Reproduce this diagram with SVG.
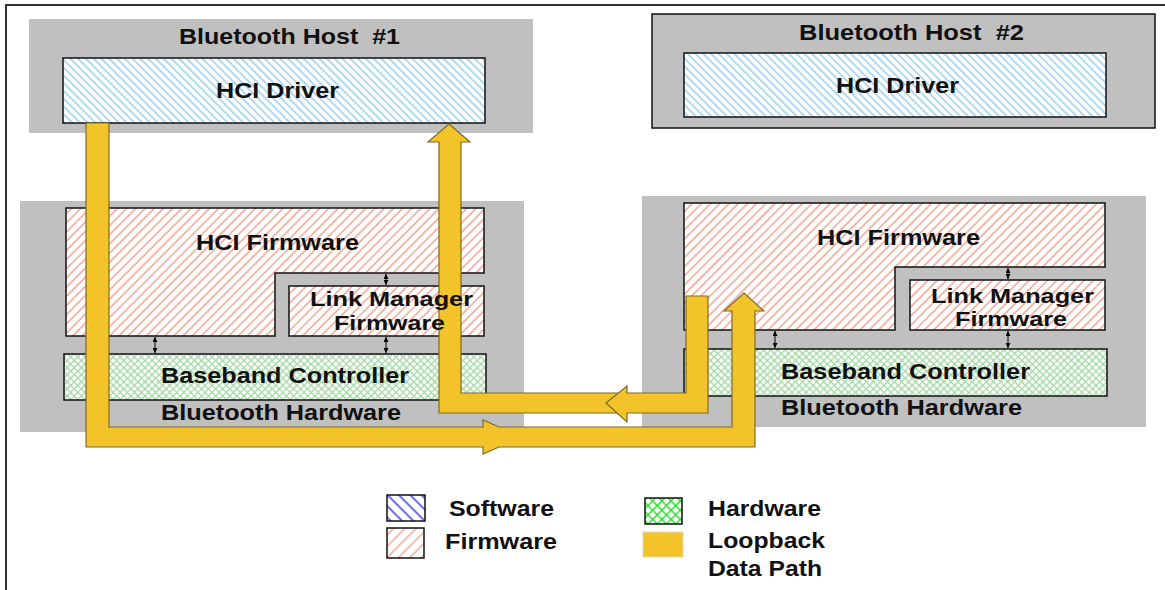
<svg xmlns="http://www.w3.org/2000/svg" width="1165" height="590" viewBox="0 0 1165 590">
<defs>
<style>
.t{font-family:"Liberation Sans",Arial,sans-serif;font-weight:bold;font-size:22px;fill:#111;white-space:pre}
.s{font-size:20px}
.grey{fill:#c0c0c0}
.box{stroke:#111;stroke-width:1.5}
.yl{fill:#f2c42a;stroke:#7d6b28;stroke-width:1.2;stroke-linejoin:miter}
.dbl{stroke:#000;stroke-width:1;marker-start:url(#ah);marker-end:url(#ah)}
</style>
<pattern id="sw" width="5.5" height="5.5" patternUnits="userSpaceOnUse" patternTransform="rotate(45)"><rect width="5.5" height="5.5" fill="#fff"/><line x1="0" y1="2.75" x2="5.5" y2="2.75" stroke="#8fcbee" stroke-width="1.4"/></pattern>
<pattern id="fw" width="6.5" height="6.5" patternUnits="userSpaceOnUse" patternTransform="rotate(-45)"><rect width="6.5" height="6.5" fill="#fff"/><line x1="0" y1="3" x2="6.5" y2="3" stroke="#f0a392" stroke-width="1.5"/></pattern>
<pattern id="hw" width="5" height="5" patternUnits="userSpaceOnUse" patternTransform="rotate(45)"><rect width="5" height="5" fill="#fff"/><line x1="0" y1="2.5" x2="5" y2="2.5" stroke="#a3d7a3" stroke-width="1.3"/><line x1="2.5" y1="0" x2="2.5" y2="5" stroke="#a3d7a3" stroke-width="1.3"/></pattern>
<pattern id="swL" width="8" height="8" patternUnits="userSpaceOnUse" patternTransform="rotate(45)"><rect width="8" height="8" fill="#fff"/><line x1="0" y1="4" x2="8" y2="4" stroke="#2f2ff0" stroke-width="1.4"/></pattern>
<pattern id="fwL" width="8" height="8" patternUnits="userSpaceOnUse" patternTransform="rotate(-45)"><rect width="8" height="8" fill="#fff"/><line x1="0" y1="4" x2="8" y2="4" stroke="#f0a392" stroke-width="1.4"/></pattern>
<pattern id="hwL" width="6.5" height="6.5" patternUnits="userSpaceOnUse" patternTransform="rotate(45)"><rect width="6.5" height="6.5" fill="#fff"/><line x1="0" y1="3.25" x2="6.5" y2="3.25" stroke="#22dd22" stroke-width="1.4"/><line x1="3.25" y1="0" x2="3.25" y2="6.5" stroke="#22dd22" stroke-width="1.4"/></pattern>
<marker id="ah" viewBox="0 0 6 6" refX="6" refY="3" markerWidth="5" markerHeight="5" markerUnits="userSpaceOnUse" orient="auto-start-reverse"><path d="M0,0 L6,3 L0,6 z" fill="#000"/></marker>
</defs>
<rect width="1165" height="590" fill="#fff"/>
<path d="M6,590 V5 H1165" fill="none" stroke="#333" stroke-width="2"/>

<g id="host1">
<rect class="grey" x="29" y="19" width="504" height="114"/>
<text class="t" x="179" y="44" textLength="221" lengthAdjust="spacingAndGlyphs">Bluetooth Host  #1</text>
</g>
<g id="hci-driver-1">
<rect class="box" x="63" y="58" width="422" height="65" fill="url(#sw)"/>
<text class="t" x="216" y="98" textLength="123" lengthAdjust="spacingAndGlyphs">HCI Driver</text>
</g>

<g id="host2">
<rect class="grey box" x="652" y="14" width="503" height="114"/>
<text class="t" x="799" y="40" textLength="225" lengthAdjust="spacingAndGlyphs">Bluetooth Host  #2</text>
</g>
<g id="hci-driver-2">
<rect class="box" x="684" y="53" width="422" height="64" fill="url(#sw)"/>
<text class="t" x="836" y="93" textLength="123" lengthAdjust="spacingAndGlyphs">HCI Driver</text>
</g>

<g id="bt-hardware-1">
<rect class="grey" x="20" y="201" width="504" height="231"/>
<text class="t" x="161" y="420" textLength="240" lengthAdjust="spacingAndGlyphs">Bluetooth Hardware</text>
</g>
<g id="hci-firmware-1">
<path class="box" d="M66,208 H484 V273 H275 V336 H66 Z" fill="url(#fw)"/>
<text class="t" x="196" y="250" textLength="163" lengthAdjust="spacingAndGlyphs">HCI Firmware</text>
</g>
<g id="link-manager-1">
<rect class="box" x="289" y="286" width="195" height="50" fill="url(#fw)"/>
</g>
<g id="baseband-1">
<rect class="box" x="64" y="354" width="422" height="46" fill="url(#hw)"/>
<text class="t" x="161" y="383" textLength="248" lengthAdjust="spacingAndGlyphs">Baseband Controller</text>
</g>

<g id="bt-hardware-2">
<rect class="grey" x="642" y="196" width="504" height="231"/>
<text class="t" x="781" y="415" textLength="241" lengthAdjust="spacingAndGlyphs">Bluetooth Hardware</text>
</g>
<g id="hci-firmware-2">
<path class="box" d="M684,203 H1105 V267 H895 V330 H684 Z" fill="url(#fw)"/>
<text class="t" x="817" y="245" textLength="163" lengthAdjust="spacingAndGlyphs">HCI Firmware</text>
</g>
<g id="link-manager-2">
<rect class="box" x="910" y="280" width="195" height="50" fill="url(#fw)"/>
<text class="t s" x="931" y="303" textLength="163" lengthAdjust="spacingAndGlyphs">Link Manager</text>
<text class="t s" x="955" y="326" textLength="112" lengthAdjust="spacingAndGlyphs">Firmware</text>
</g>
<g id="baseband-2">
<rect class="box" x="684" y="349" width="423" height="47" fill="url(#hw)"/>
<text class="t" x="781" y="379" textLength="249" lengthAdjust="spacingAndGlyphs">Baseband Controller</text>
</g>

<g id="connectors">
<line class="dbl" x1="155" y1="337" x2="155" y2="353"/>
<line class="dbl" x1="386" y1="274" x2="386" y2="285"/>
<line class="dbl" x1="386" y1="337" x2="386" y2="353"/>
<line class="dbl" x1="775" y1="331" x2="775" y2="348"/>
<line class="dbl" x1="1008" y1="268" x2="1008" y2="279"/>
<line class="dbl" x1="1008" y1="331" x2="1008" y2="348"/>
<path class="yl" d="M86,123 H109 V427 H483 V420 L499,427 H732 V311 H724 L744,293 L764,311 H755 V447 H499 L483,454 V447 H86 Z"/>
<path class="yl" d="M449,124 L470,142 H461 V393 H625 V413 H439 V142 H428 Z"/>
<path class="yl" d="M686,296 H708 V413 H627 V422 L606,403 L627,386 V393 H686 Z"/>
</g>

<g id="link-manager-1-label">
<text class="t s" x="310" y="306" textLength="163" lengthAdjust="spacingAndGlyphs">Link Manager</text>
<text class="t s" x="334" y="330" textLength="111" lengthAdjust="spacingAndGlyphs">Firmware</text>
</g>

<g id="legend">
<rect x="387" y="495" width="38" height="26" fill="url(#swL)" stroke="#111" stroke-width="1.5"/>
<text class="t" x="449" y="516" textLength="105" lengthAdjust="spacingAndGlyphs">Software</text>
<rect x="387" y="528" width="37" height="30" fill="url(#fwL)" stroke="#111" stroke-width="1.5"/>
<text class="t" x="445" y="549" textLength="112" lengthAdjust="spacingAndGlyphs">Firmware</text>
<rect x="645" y="498" width="37" height="26" fill="url(#hwL)" stroke="#111" stroke-width="1.5"/>
<text class="t" x="708" y="516" textLength="113" lengthAdjust="spacingAndGlyphs">Hardware</text>
<rect x="643" y="532" width="40" height="25" fill="#f2c42a" stroke="#e0d8b8" stroke-width="1"/>
<text class="t" x="708" y="548" textLength="117" lengthAdjust="spacingAndGlyphs">Loopback</text>
<text class="t" x="708" y="576" textLength="114" lengthAdjust="spacingAndGlyphs">Data Path</text>
</g>
</svg>
